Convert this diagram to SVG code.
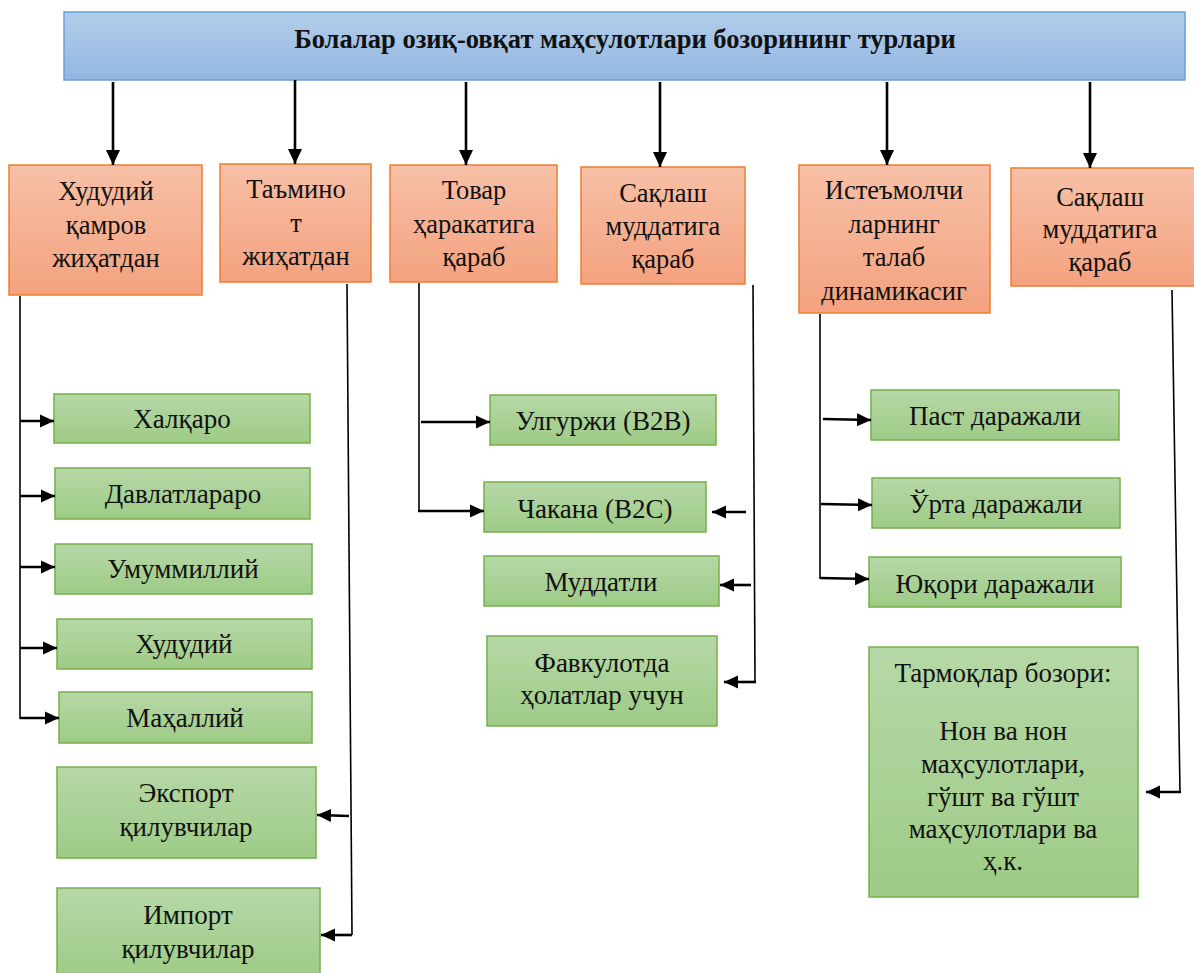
<svg xmlns="http://www.w3.org/2000/svg" width="1194" height="973" viewBox="0 0 1194 973">
  <defs>
    <linearGradient id="gBlue" x1="0" y1="0" x2="0" y2="1">
      <stop offset="0" stop-color="#b3cdea"/>
      <stop offset="1" stop-color="#93b7e1"/>
    </linearGradient>
    <linearGradient id="gOrange" x1="0" y1="0" x2="0" y2="1">
      <stop offset="0" stop-color="#f7c0a7"/>
      <stop offset="1" stop-color="#f4a27f"/>
    </linearGradient>
    <linearGradient id="gGreen" x1="0" y1="0" x2="0" y2="1">
      <stop offset="0" stop-color="#b6d8a7"/>
      <stop offset="1" stop-color="#9ecb86"/>
    </linearGradient>
    <marker id="ahBig" markerUnits="userSpaceOnUse" markerWidth="16" markerHeight="16" refX="15" refY="8" orient="auto">
      <path d="M0,1 L15,8 L0,15 z" fill="#000"/>
    </marker>
    <marker id="ah" markerUnits="userSpaceOnUse" markerWidth="15" markerHeight="15" refX="14" refY="7.5" orient="auto">
      <path d="M0,1 L14,7.5 L0,14 z" fill="#000"/>
    </marker>
  </defs>
  <style>
    text { font-family: "Liberation Serif", "Times New Roman", serif; fill: #111; text-anchor: middle; }
    .head { font-size: 26.5px; font-weight: bold; }
    .t { font-size: 26.5px; }
    .s { font-size: 27px; }
    .blue { fill: url(#gBlue); stroke: #6a9fd8; stroke-width: 1.5; }
    .orange { fill: url(#gOrange); stroke: #ed7d31; stroke-width: 1.5; }
    .green { fill: url(#gGreen); stroke: #74b04a; stroke-width: 1.5; }
    .ln { stroke: #000; stroke-width: 1.6; fill: none; }
    .ar { stroke: #000; stroke-width: 2.6; fill: none; marker-end: url(#ah); }
    .arb { stroke: #000; stroke-width: 2.6; fill: none; marker-end: url(#ahBig); }
  </style>

  <rect width="1194" height="973" fill="#fff"/>

  <!-- Title -->
  <g id="title">
    <rect class="blue" x="64" y="12" width="1121" height="68"/>
    <text class="head" x="625" y="48">Болалар озиқ-овқат маҳсулотлари бозорининг турлари</text>
  </g>

  <!-- Category boxes -->
  <g id="cat-region">
    <rect class="orange" x="9" y="165" width="193" height="130"/>
    <text class="t" x="106" y="200">Худудий</text>
    <text class="t" x="106" y="234">қамров</text>
    <text class="t" x="106" y="267">жиҳатдан</text>
  </g>
  <g id="cat-supply">
    <rect class="orange" x="220" y="164" width="151" height="118"/>
    <text class="t" x="296" y="198">Таъмино</text>
    <text class="t" x="296" y="232">т</text>
    <text class="t" x="296" y="265">жиҳатдан</text>
  </g>
  <g id="cat-goods">
    <rect class="orange" x="390" y="165" width="167" height="117"/>
    <text class="t" x="474" y="199">Товар</text>
    <text class="t" x="474" y="233">ҳаракатига</text>
    <text class="t" x="474" y="266">қараб</text>
  </g>
  <g id="cat-storage1">
    <rect class="orange" x="581" y="167" width="164" height="117"/>
    <text class="t" x="663" y="202">Сақлаш</text>
    <text class="t" x="663" y="235">муддатига</text>
    <text class="t" x="663" y="268">қараб</text>
  </g>
  <g id="cat-demand">
    <rect class="orange" x="799" y="165" width="191" height="148"/>
    <text class="t" x="894" y="199">Истеъмолчи</text>
    <text class="t" x="894" y="233">ларнинг</text>
    <text class="t" x="894" y="266">талаб</text>
    <text class="t" x="894" y="300">динамикасиг</text>
  </g>
  <g id="cat-storage2">
    <rect class="orange" x="1011" y="168" width="190" height="118"/>
    <text class="t" x="1100" y="206">Сақлаш</text>
    <text class="t" x="1100" y="238">муддатига</text>
    <text class="t" x="1100" y="271">қараб</text>
  </g>

  <!-- Region subtypes -->
  <g id="n-international">
    <rect class="green" x="54" y="394" width="256" height="49"/>
    <text class="s" x="182" y="428">Халқаро</text>
  </g>
  <g id="n-interstate">
    <rect class="green" x="55" y="468" width="255" height="51"/>
    <text class="s" x="183" y="503">Давлатлараро</text>
  </g>
  <g id="n-national">
    <rect class="green" x="55" y="544" width="257" height="50"/>
    <text class="s" x="183" y="578">Умуммиллий</text>
  </g>
  <g id="n-regional">
    <rect class="green" x="57" y="619" width="255" height="50"/>
    <text class="s" x="184" y="653">Худудий</text>
  </g>
  <g id="n-local">
    <rect class="green" x="59" y="692" width="253" height="51"/>
    <text class="s" x="185" y="727">Маҳаллий</text>
  </g>
  <g id="n-export">
    <rect class="green" x="57" y="767" width="259" height="91"/>
    <text class="s" x="186" y="802">Экспорт</text>
    <text class="s" x="186" y="836">қилувчилар</text>
  </g>
  <g id="n-import">
    <rect class="green" x="57" y="888" width="263" height="90"/>
    <text class="s" x="188" y="924">Импорт</text>
    <text class="s" x="188" y="958">қилувчилар</text>
  </g>

  <!-- Goods movement subtypes -->
  <g id="n-wholesale">
    <rect class="green" x="490" y="395" width="226" height="50"/>
    <text class="s" x="603" y="430">Улгуржи (B2B)</text>
  </g>
  <g id="n-retail">
    <rect class="green" x="484" y="482" width="222" height="50"/>
    <text class="s" x="595" y="518">Чакана (B2C)</text>
  </g>
  <g id="n-term">
    <rect class="green" x="484" y="556" width="235" height="50"/>
    <text class="s" x="601" y="591">Муддатли</text>
  </g>
  <g id="n-emergency">
    <rect class="green" x="487" y="636" width="230" height="90"/>
    <text class="s" x="602" y="672">Фавкулотда</text>
    <text class="s" x="602" y="704">ҳолатлар учун</text>
  </g>

  <!-- Demand subtypes -->
  <g id="n-low">
    <rect class="green" x="871" y="390" width="248" height="50"/>
    <text class="s" x="995" y="425">Паст даражали</text>
  </g>
  <g id="n-mid">
    <rect class="green" x="872" y="478" width="248" height="50"/>
    <text class="s" x="996" y="513">Ўрта даражали</text>
  </g>
  <g id="n-high">
    <rect class="green" x="869" y="557" width="252" height="50"/>
    <text class="s" x="995" y="593">Юқори даражали</text>
  </g>

  <!-- Branch markets -->
  <g id="n-branches">
    <rect class="green" x="869" y="647" width="269" height="250"/>
    <text class="s" x="1003" y="682">Тармоқлар бозори:</text>
    <text class="s" x="1003" y="740">Нон ва нон</text>
    <text class="s" x="1003" y="773">маҳсулотлари,</text>
    <text class="s" x="1003" y="806">гўшт ва гўшт</text>
    <text class="s" x="1003" y="838">маҳсулотлари ва</text>
    <text class="s" x="1003" y="870">ҳ.к.</text>
  </g>

  <!-- Connectors -->
  <g id="connectors">
    <!-- title to categories -->
    <line class="arb" x1="113" y1="82" x2="113" y2="165"/>
    <line class="arb" x1="295" y1="80" x2="295" y2="164"/>
    <line class="arb" x1="466" y1="82" x2="466" y2="165"/>
    <line class="arb" x1="660" y1="82" x2="660" y2="167"/>
    <line class="arb" x1="887" y1="82" x2="887" y2="165"/>
    <line class="arb" x1="1090" y1="82" x2="1090" y2="168"/>

    <!-- region spine and branches -->
    <line class="ln" x1="20" y1="296" x2="20" y2="719"/>
    <line class="ar" x1="20" y1="421" x2="54" y2="421"/>
    <line class="ar" x1="20" y1="496" x2="55" y2="496"/>
    <line class="ar" x1="20" y1="567" x2="55" y2="567"/>
    <line class="ar" x1="20" y1="648" x2="57" y2="648"/>
    <line class="ar" x1="20" y1="718" x2="59" y2="718"/>

    <!-- supply spine -->
    <line class="ln" x1="347" y1="284" x2="352" y2="935"/>
    <line class="ar" x1="349" y1="816" x2="317" y2="815"/>
    <line class="ar" x1="352" y1="935" x2="321" y2="935"/>

    <!-- goods movement -->
    <line class="ln" x1="419" y1="283" x2="419" y2="511"/>
    <line class="ar" x1="421" y1="422" x2="490" y2="422"/>
    <line class="ar" x1="418" y1="511" x2="484" y2="511"/>

    <!-- storage term -->
    <line class="ln" x1="753" y1="285" x2="755" y2="682"/>
    <line class="ar" x1="746" y1="512" x2="712" y2="512"/>
    <line class="ar" x1="751" y1="585" x2="720" y2="585"/>
    <line class="ar" x1="756" y1="682" x2="724" y2="682"/>

    <!-- demand -->
    <line class="ln" x1="820" y1="314" x2="820" y2="579"/>
    <line class="ar" x1="823" y1="419" x2="871" y2="420"/>
    <line class="ar" x1="821" y1="504" x2="872" y2="505"/>
    <line class="ar" x1="820" y1="578" x2="869" y2="579"/>

    <!-- branch markets -->
    <polyline class="ln" points="1172,290 1180,792 1160,792"/>
    <line class="ar" x1="1181" y1="792" x2="1146" y2="792"/>
  </g>
</svg>
